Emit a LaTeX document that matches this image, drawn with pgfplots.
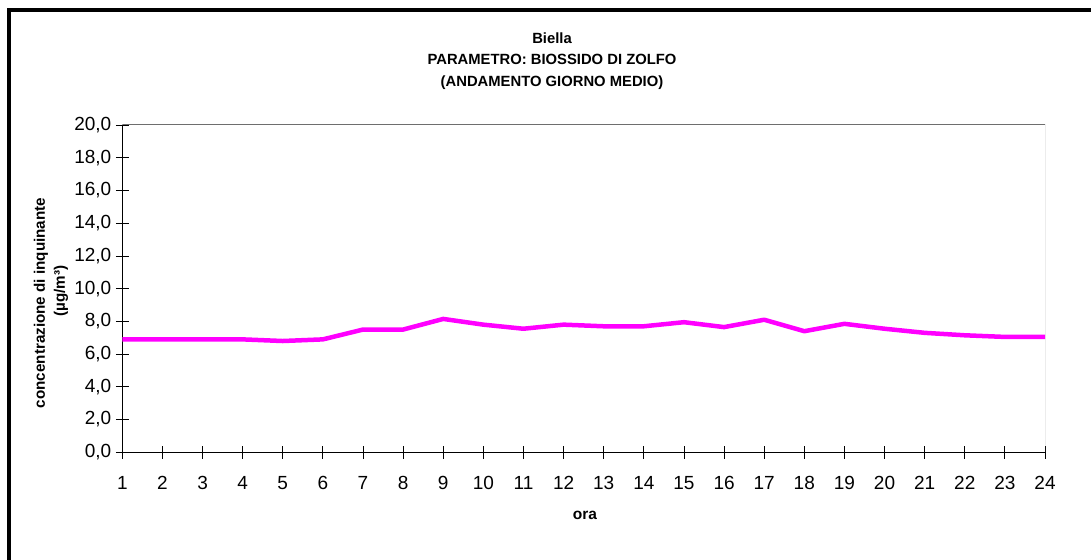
\documentclass[border=0pt]{standalone}
\usepackage{pgfplots}
\pgfplotsset{compat=1.18}
\usepackage{fontspec}
\setmainfont{Liberation Sans}
\definecolor{linemag}{RGB}{255,0,255}
\definecolor{framegray}{RGB}{110,110,110}
\begin{document}
\begin{tikzpicture}[x=1pt,y=1pt]
\useasboundingbox (0,0) rectangle (1091,559);
\fill[white] (0,0) rectangle (1091,559);
\draw[line width=4pt] (9.3,-5) -- (9.3,548.5) -- (1100,548.5);
\begin{axis}[
  at={(122.3pt,106.7pt)}, anchor=south west,
  scale only axis, width=922.7pt, height=327.3pt,
  xmin=1, xmax=24, ymin=0, ymax=20,
  xtick={1,...,24}, ytick={0,2,...,20},
  axis x line*=bottom, axis y line*=left,
  axis line style={-, black, line width=1pt},
  tick align=center, major tick length=13pt,
  tick style={black, line width=0.8pt},
  /pgf/number format/assume math mode=true,
  ticklabel style={font=\fontsize{19}{20}\selectfont},
  yticklabel style={xshift=-1pt},
  y tick label style={/pgf/number format/.cd, fixed, fixed zerofill, precision=1, use comma},
  xticklabel style={yshift=-14pt},
]
\addplot[linemag, line width=4.5pt, line join=round] coordinates {
(1,6.9) (2,6.9) (3,6.9) (4,6.9) (5,6.8) (6,6.9) (7,7.5) (8,7.5)
(9,8.15) (10,7.8) (11,7.55) (12,7.8) (13,7.7) (14,7.7) (15,7.95) (16,7.65)
(17,8.1) (18,7.4) (19,7.85) (20,7.55) (21,7.3) (22,7.15) (23,7.05) (24,7.05)
};
\draw[framegray, line width=1pt] (rel axis cs:0,1) -- (rel axis cs:1,1) -- (rel axis cs:1,0);
\end{axis}
\node[anchor=base, font=\fontsize{14.8}{16}\selectfont\bfseries] at (552,515.7) {Biella};
\node[anchor=base, font=\fontsize{14.8}{16}\selectfont\bfseries] at (552,494.3) {PARAMETRO: BIOSSIDO DI ZOLFO};
\node[anchor=base, font=\fontsize{14.8}{16}\selectfont\bfseries] at (552,472.5) {(ANDAMENTO GIORNO MEDIO)};
\node[anchor=base, font=\fontsize{15.5}{16}\selectfont\bfseries] at (585,39) {ora};
\node[rotate=90, font=\fontsize{15.2}{16}\selectfont\bfseries] at (41,256) {concentrazione di inquinante};
\node[rotate=90, font=\fontsize{15.2}{16}\selectfont\bfseries] at (61,268) {(µg/m³)};
\end{tikzpicture}
\end{document}
